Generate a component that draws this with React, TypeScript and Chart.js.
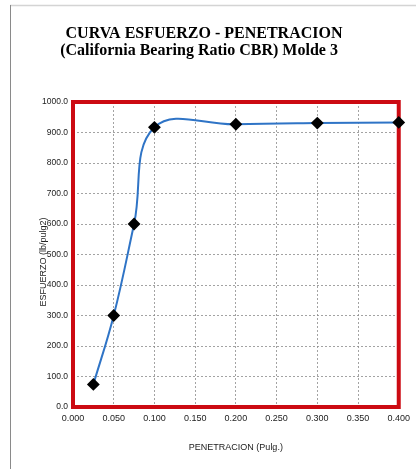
import React, { useEffect, useRef } from "react";
import { Chart, registerables } from "chart.js";

Chart.register(...registerables);

const titleLines = ["CURVA ESFUERZO - PENETRACION", "(California Bearing Ratio CBR) Molde 3"];
const penetration = [0.025, 0.05, 0.075, 0.1, 0.2, 0.3, 0.4];
const stress = [74, 300, 600, 917, 927, 931, 933];
const xTitle = "PENETRACION (Pulg.)";
const yTitle = "ESFUERZO (lb/pulg2)";

const W = 416;
const H = 469;

export default function App() {
  const ref = useRef<HTMLCanvasElement | null>(null);
  useEffect(() => {
    if (!ref.current) return;
    const deco = {
      id: "deco",
      beforeDraw(chart: any) {
        const ctx = chart.ctx;
        ctx.save();
        ctx.fillStyle = "#ffffff";
        ctx.fillRect(0, 0, W, H);
        ctx.strokeStyle = "#d4d4d4";
        ctx.lineWidth = 1.5;
        ctx.beginPath();
        ctx.moveTo(10, 5.5);
        ctx.lineTo(W, 5.5);
        ctx.stroke();
        ctx.strokeStyle = "#8a8a8a";
        ctx.lineWidth = 1;
        ctx.beginPath();
        ctx.moveTo(10.5, 5);
        ctx.lineTo(10.5, H);
        ctx.stroke();
        ctx.fillStyle = "#000";
        ctx.font = "bold 16px 'Liberation Serif', 'Times New Roman', serif";
        ctx.textAlign = "center";
        ctx.textBaseline = "middle";
        ctx.fillText(titleLines[0], 204, 34);
        ctx.fillText(titleLines[1], 199, 51);
        ctx.restore();
      },
      beforeDatasetsDraw(chart: any) {
        const { ctx, chartArea: a } = chart;
        ctx.save();
        ctx.strokeStyle = "#cc0a12";
        ctx.lineWidth = 4;
        ctx.strokeRect(a.left, a.top, a.right - a.left, a.bottom - a.top);
        ctx.restore();
      },
      afterDraw(chart: any) {
        const ctx = chart.ctx;
        ctx.save();
        ctx.fillStyle = "#222";
        ctx.font = "9px 'Liberation Sans', Arial, sans-serif";
        ctx.textAlign = "center";
        ctx.textBaseline = "middle";
        ctx.translate(44, 262);
        ctx.rotate(-Math.PI / 2);
        ctx.fillText(yTitle, 0, 0);
        ctx.restore();
      },
    };
    const chart = new Chart(ref.current, {
      type: "scatter",
      data: {
        datasets: [
          {
            data: penetration.map((x, i) => ({ x, y: stress[i] })),
            showLine: true,
            borderColor: "#2f74c6",
            borderWidth: 2,
            tension: 0.4,
            pointStyle: "rectRot",
            pointRadius: 5,
            pointBackgroundColor: "#000",
            pointBorderColor: "#000",
            clip: false,
          } as any,
        ],
      },
      options: {
        responsive: false,
        animation: false,
        devicePixelRatio: 1,
        layout: { padding: { left: 33, top: 102, right: 17, bottom: 12 } },
        plugins: { legend: { display: false }, tooltip: { enabled: false }, title: { display: false } },
        scales: {
          x: {
            type: "linear",
            min: 0,
            max: 0.4,
            afterFit: (s: any) => { s.height = 50; },
            ticks: {
              stepSize: 0.05,
              padding: 6,
              color: "#222",
              font: { size: 9, family: "'Liberation Sans', Arial, sans-serif" },
              callback: (v: any) => Number(v).toFixed(3),
              maxRotation: 0,
            },
            grid: { color: "#8c8c8c", lineWidth: 0.8, drawTicks: false } as any,
            border: { display: false, dash: [2, 2] } as any,
            title: {
              display: true,
              text: xTitle,
              color: "#222",
              padding: { top: 12 },
              font: { size: 9, family: "'Liberation Sans', Arial, sans-serif" },
            },
          },
          y: {
            min: 0,
            max: 1000,
            afterFit: (s: any) => { s.width = 40; },
            ticks: {
              stepSize: 100,
              padding: 5,
              color: "#222",
              font: { size: 8.5, family: "'Liberation Sans', Arial, sans-serif" },
              callback: (v: any) => Number(v).toFixed(1),
            },
            grid: { color: "#8c8c8c", lineWidth: 0.8, drawTicks: false } as any,
            border: { display: false, dash: [2, 2] } as any,
          },
        },
      } as any,
      plugins: [deco],
    });
    return () => chart.destroy();
  }, []);
  return (
    <div style={{ position: "fixed", left: 0, top: 0, width: W, height: H, background: "#fff" }}>
      <canvas ref={ref} width={W} height={H} style={{ width: W, height: H, display: "block" }} />
    </div>
  );
}
